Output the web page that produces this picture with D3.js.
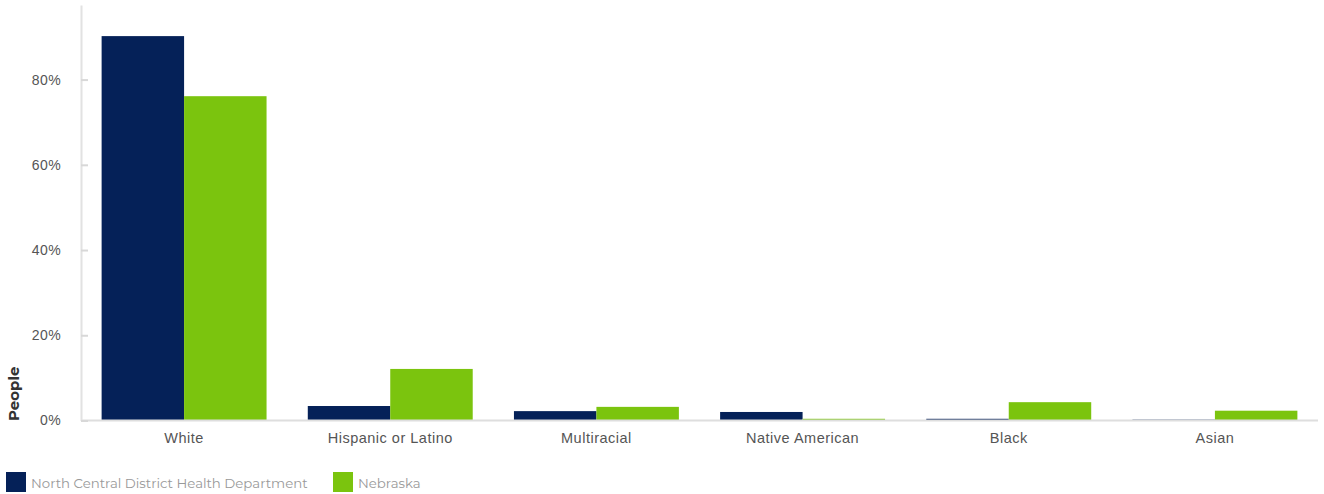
<!DOCTYPE html>
<html>
<head>
<meta charset="utf-8">
<script src="https://cdn.jsdelivr.net/npm/d3@7"></script>
<style>
  body { margin: 0; background: #fff; }
  svg { display: block; font-family: "Montserrat", "Open Sans", Lato, sans-serif; }
</style>
</head>
<body>
<svg id="chart" width="1324" height="494"></svg>
<script>
// Population share by race/ethnicity
const categories = ["White", "Hispanic or Latino", "Multiracial", "Native American", "Black", "Asian"];
const seriesNames = ["North Central District Health Department", "Nebraska"];
const districtValues = [90.2, 3.4, 2.2, 2.0, 0.4, 0.2];
const nebraskaValues = [76.1, 12.1, 3.2, 0.4, 4.3, 2.3];
const yTicks = [0, 20, 40, 60, 80];
const colors = ["#052158", "#7BC40E"];

(function () {
const svg = d3.select("#chart");
const plotLeft = 81, plotRight = 1318, plotTop = 5, plotBottom = 420.5;

const x0 = d3.scaleBand().domain(categories).range([plotLeft, plotRight]).paddingInner(0.2).paddingOuter(0.1);
const x1 = d3.scaleBand().domain(seriesNames).range([0, x0.bandwidth()]);
const y = d3.scaleLinear().domain([0, 97.5]).range([plotBottom, plotTop]);
const color = d3.scaleOrdinal().domain(seriesNames).range(colors);

const rows = categories.map((c, i) => ({ cat: c, vals: [districtValues[i], nebraskaValues[i]] }));

// bars
const g = svg.append("g");
g.selectAll("g.grp").data(rows).join("g")
  .attr("class", "grp")
  .attr("transform", d => `translate(${x0(d.cat)},0)`)
  .selectAll("rect").data(d => d.vals.map((v, j) => ({ s: seriesNames[j], v })))
  .join("rect")
  .attr("x", d => x1(d.s))
  .attr("width", x1.bandwidth())
  .attr("y", d => y(d.v))
  .attr("height", d => y(0) - y(d.v))
  .attr("fill", d => color(d.s));

// baseline
svg.append("line")
  .attr("x1", plotLeft).attr("x2", plotRight)
  .attr("y1", y(0)).attr("y2", y(0))
  .attr("stroke", "#dedede").attr("stroke-width", 2);

// y axis
const yAxis = d3.axisLeft(y).tickValues(yTicks).tickFormat(d => d + "%").tickSize(0).tickPadding(20);
const ya = svg.append("g").attr("transform", `translate(${plotLeft},0)`).call(yAxis);
ya.select(".domain").attr("stroke", "#e2e2e2").attr("stroke-width", 2);
ya.selectAll(".tick text").attr("fill", "#555").attr("font-size", 14)
  .attr("letter-spacing", 0.4).attr("font-family", "inherit");
ya.selectAll(".tick").append("line")
  .attr("x1", 0).attr("x2", 7)
  .attr("stroke", "#d8d8d8").attr("stroke-width", 2);

// x axis labels
const xAxis = d3.axisBottom(x0).tickSize(0).tickPadding(12);
const xa = svg.append("g").attr("transform", `translate(0,${y(0)})`).call(xAxis);
xa.select(".domain").remove();
xa.selectAll(".tick text").attr("fill", "#555").attr("font-size", 14.5)
  .attr("letter-spacing", 0.5).attr("font-family", "inherit");

// y axis title
svg.append("text")
  .attr("transform", `translate(19,421) rotate(-90)`)
  .attr("text-anchor", "start")
  .attr("font-size", 15).attr("font-weight", 700).attr("fill", "#333")
  .text("People");

// legend
const legendX = [6, 333];
const lg = svg.append("g").selectAll("g").data(seriesNames).join("g")
  .attr("transform", (d, i) => `translate(${legendX[i]},472)`);
lg.append("rect").attr("width", 20).attr("height", 20).attr("fill", d => color(d));
lg.append("text").attr("x", 25).attr("y", 15.5)
  .attr("font-size", 13.3).attr("fill", "#999").text(d => d);
})();
</script>
</body>
</html>
